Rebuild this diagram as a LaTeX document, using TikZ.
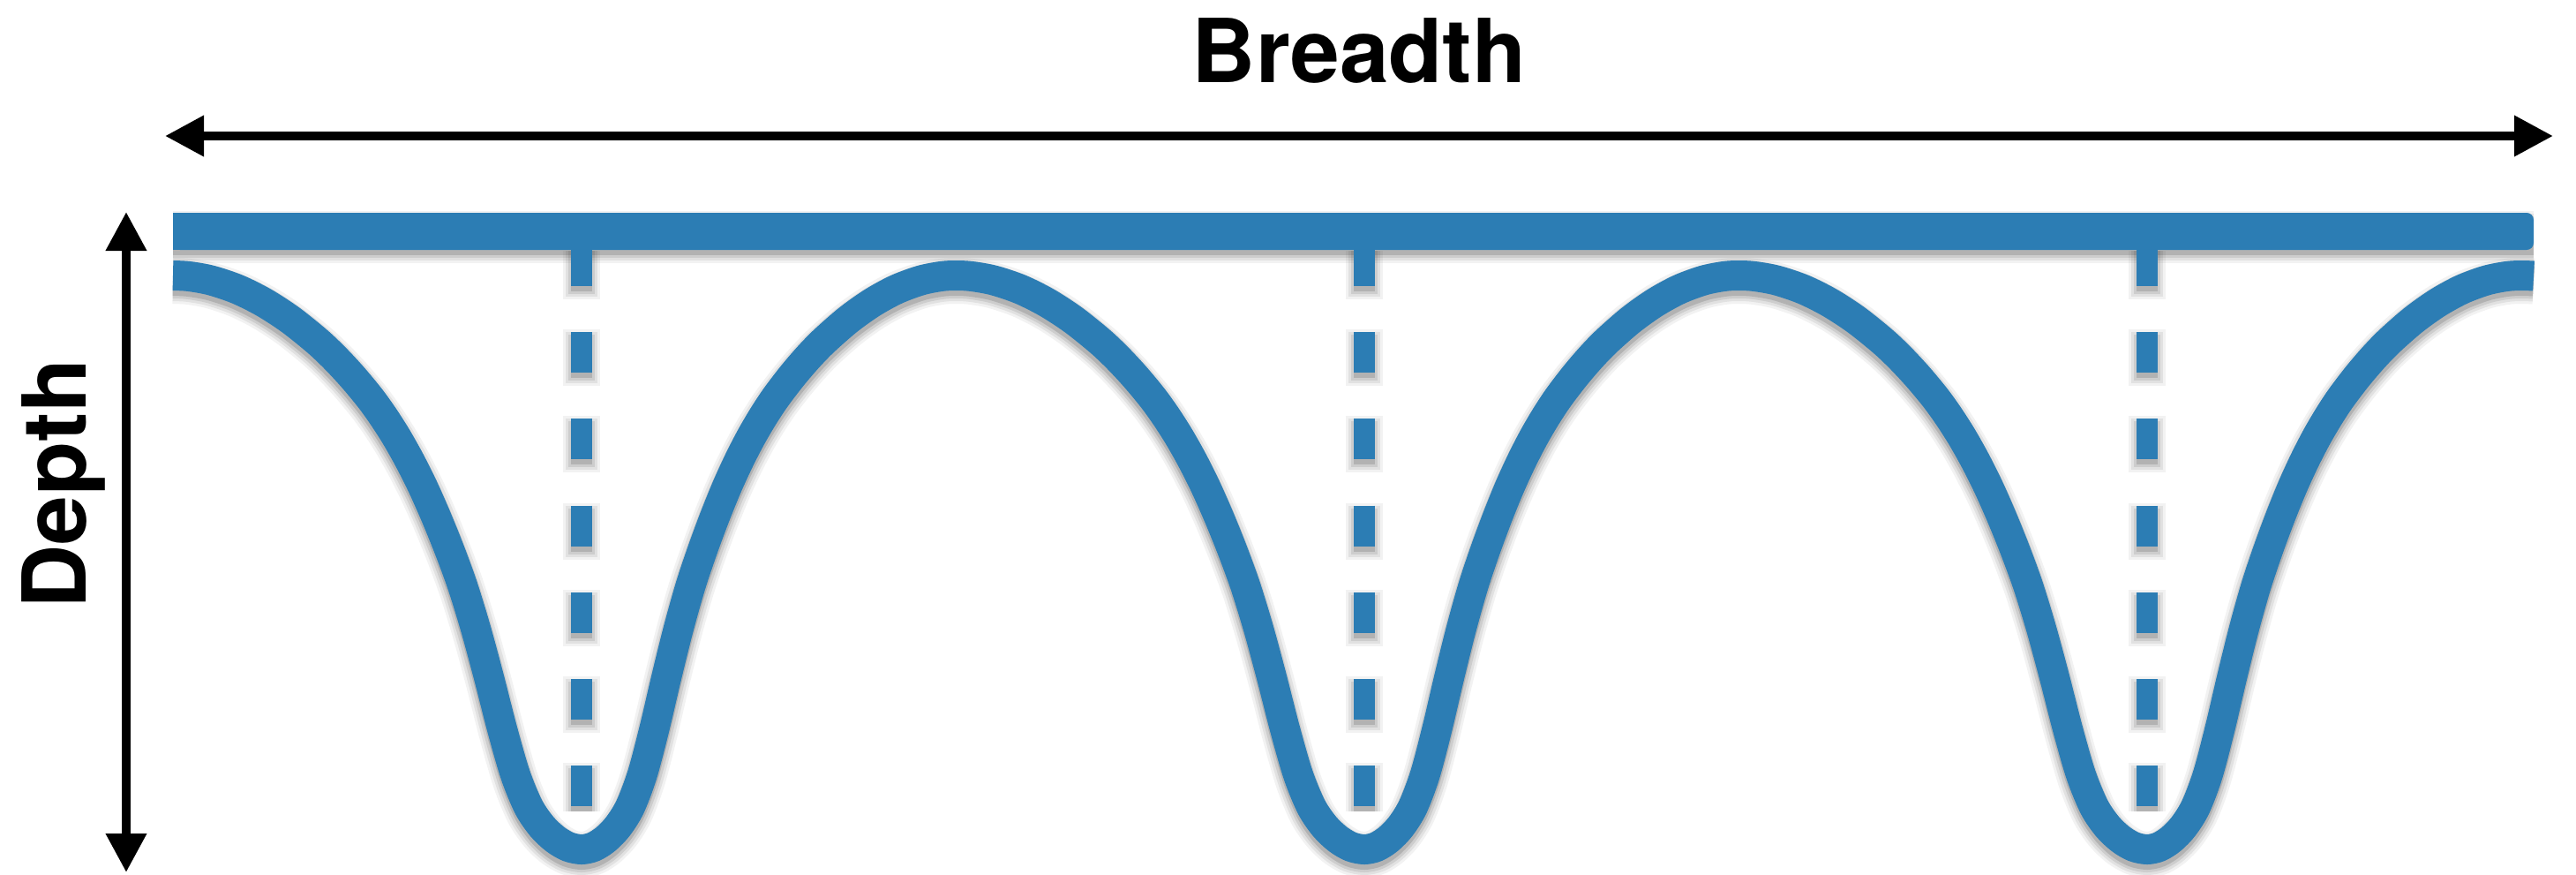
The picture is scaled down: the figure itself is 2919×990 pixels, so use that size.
\documentclass[tikz,border=0pt]{standalone}
\usepackage{fontspec}
\setmainfont{TeX Gyre Heros}
\usetikzlibrary{arrows.meta}
\definecolor{wave}{RGB}{44,125,180}
% valley half-profile: distance from valley centre (on a 463 wide half) / fraction of depth
\def\wvL{445/0.0015,420/0.0085,390/0.024,360/0.047,330/0.077,300/0.114,280/0.143,260/0.176,240/0.213,225/0.245,210/0.281,195/0.322,180/0.368,165/0.420,150/0.477,135/0.540,120/0.615,105/0.700,90/0.790,75/0.870,60/0.926,45/0.960,30/0.982,15/0.9955}
\def\wvR{15/0.9955,30/0.982,45/0.960,60/0.926,75/0.870,90/0.790,105/0.700,120/0.615,135/0.540,150/0.477,165/0.420,180/0.368,195/0.322,210/0.281,225/0.245,240/0.213,260/0.176,280/0.143,300/0.114,330/0.077,360/0.047,390/0.024,420/0.0085,445/0.0015,463/0}
\newcommand\wvpath[1]{\edef\wvtmp{\noexpand\draw[#1] plot[smooth,tension=0.5] coordinates {\wvpts};}\wvtmp}
\begin{document}
\begin{tikzpicture}[x=1pt,y=-1pt,
  dimline/.style={line width=10pt,
    {Triangle[length=44pt,width=44pt]}-{Triangle[length=44pt,width=44pt]}},
  lbl/.style={font=\fontsize{100}{120}\selectfont\bfseries, inner sep=0pt},
  dashline/.style={line width=24pt, dash pattern=on 46pt off 52.2pt},
]
\useasboundingbox (0,0) rectangle (2919,990);

% ---- build the wave centre line ----
\xdef\wvpts{(196,312)}
\foreach \X in {659,1546,2433}{
  \foreach \d/\f in \wvL {
    \pgfmathsetmacro\px{\X-\d}
    \pgfmathsetmacro\py{312+650*\f}
    \xdef\wvpts{\wvpts (\px,\py)}
  }
  \xdef\wvpts{\wvpts (\X,962)}
  \foreach \d/\f in \wvR {
    \pgfmathsetmacro\px{\X+\d*0.91577}
    \pgfmathsetmacro\py{312+650*\f}
    \xdef\wvpts{\wvpts (\px,\py)}
  }
}
\xdef\wvpts{\wvpts (2871,312.5)}

% ---- shadows ----
\foreach \e/\o in {9/0.05,6/0.07,3/0.09,0/0.13}{
  \fill[black,opacity=\o] ({196},{248-\e}) rectangle ({2871},{289+\e});
  \wvpath{black,opacity=\o,line width={34+2*\e}, yshift=-6pt}
  \foreach \vx in {659,1546,2433}{
    \draw[black,opacity=\o,line width={24+2*\e},dash pattern=on {46+2*\e}pt off {52.2-2*\e}pt, dash phase=\e pt, yshift=-6pt]
      (\vx,278) -- (\vx,913);
  }
}

% ---- wave bar ----
\fill[wave, rounded corners=8pt] (196,241) rectangle (2871,283);
\fill[wave] (196,241) rectangle (230,283);

% ---- wave curve ----
\wvpath{wave, line width=34pt}

% ---- dashed centre lines ----
\foreach \vx/\nm in {659/a,1546/b,2433/c}{
  \coordinate (top\nm) at (\vx,278);
  \coordinate (bot\nm) at (\vx,913);
  \draw[wave, dashline] (top\nm) -- (bot\nm);
}

% ---- dimension arrows ----
\coordinate (bL) at (187,154);
\coordinate (bR) at (2893,154);
\coordinate (dT) at (143,240);
\coordinate (dB) at (143,988);
\draw[dimline] (bL) -- (bR);
\draw[dimline] (dT) -- (dB);

% ---- labels ----
\node[lbl, anchor=base] (breadth) at (1540,93) {Breadth};
\node[lbl, anchor=base, rotate=90] (depth) at (97,548) {Depth};
\end{tikzpicture}
\end{document}
